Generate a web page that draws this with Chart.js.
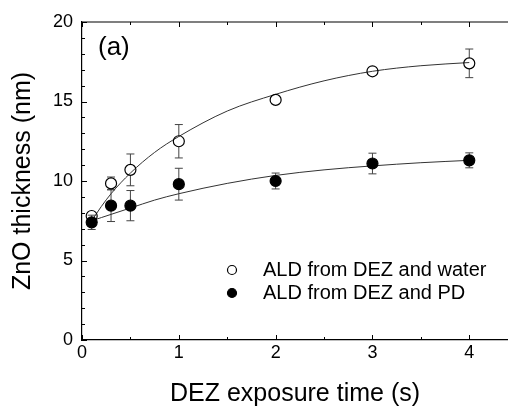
<!DOCTYPE html>
<html lang="en">
<head>
    <meta charset="utf-8" />
    <title>ZnO thickness vs DEZ exposure</title>
    <style>
        html, body { margin: 0; padding: 0; background: #fff; }
        #chartBox { width: 508px; height: 407px; }
    </style>
</head>
<body>
    <div id="chartBox"><canvas id="znoChart"></canvas></div>
    <script src="https://cdn.jsdelivr.net/npm/chart.js"></script>
    <script>
        // values
        var exposureTimes = [0.1, 0.3, 0.5, 1, 2, 3, 4];
        var waterThickness = [7.8, 9.85, 10.7, 12.5, 15.1, 16.9, 17.4];
        var waterError = [0.3, 0.4, 1.0, 1.05, 0.2, 0.2, 0.9];
        var pdThickness = [7.4, 8.45, 8.45, 9.8, 10.0, 11.1, 11.3];
        var pdError = [0.45, 1.0, 0.95, 1.0, 0.5, 0.65, 0.47];

        // fitted curves
        var fitTimes = [0.1, 0.2, 0.3, 0.5, 0.75, 1, 1.5, 2, 2.5, 3, 3.5, 4];
        var waterFit = [7.5, 8.4, 9.2, 10.5, 11.8, 12.8, 14.4, 15.45, 16.3, 16.9, 17.25, 17.45];
        var pdFit = [7.5, 7.7, 7.9, 8.3, 8.8, 9.2, 9.85, 10.35, 10.7, 10.95, 11.15, 11.3];

        var xTicks = [0, 1, 2, 3, 4];
        var yTicks = [0, 5, 10, 15, 20];
        var seriesNames = ['ALD from DEZ and water', 'ALD from DEZ and PD'];

        var FONT = '"Liberation Sans", Arial, sans-serif';
        Chart.defaults.font.family = FONT;
        Chart.defaults.color = '#000';

        function toXY(xs, ys) {
            return xs.map(function (x, i) { return { x: x, y: ys[i] }; });
        }

        // error bars, drawn under the markers
        var errorBars = {
            id: 'errorBars',
            beforeDatasetsDraw: function (chart) {
                var ctx = chart.ctx;
                var ys = chart.scales.y;
                ctx.save();
                ctx.strokeStyle = '#444';
                ctx.lineWidth = 1;
                chart.data.datasets.forEach(function (ds, di) {
                    if (!ds.errors) return;
                    var meta = chart.getDatasetMeta(di);
                    meta.data.forEach(function (pt, i) {
                        var v = ds.data[i].y, e = ds.errors[i];
                        var top = ys.getPixelForValue(v + e);
                        var bot = ys.getPixelForValue(v - e);
                        var r = ds.pointRadius;
                        ctx.beginPath();
                        if (top < pt.y - r) { ctx.moveTo(pt.x, pt.y - r); ctx.lineTo(pt.x, top); ctx.moveTo(pt.x - 4, top); ctx.lineTo(pt.x + 4, top); }
                        if (bot > pt.y + r) { ctx.moveTo(pt.x, pt.y + r); ctx.lineTo(pt.x, bot); ctx.moveTo(pt.x - 4, bot); ctx.lineTo(pt.x + 4, bot); }
                        ctx.stroke();
                    });
                });
                ctx.restore();
            }
        };

        // frame line, inward ticks, legend and panel label
        var decorations = {
            id: 'decorations',
            afterDraw: function (chart) {
                var ctx = chart.ctx;
                var a = chart.chartArea;
                var xs = chart.scales.x, ys = chart.scales.y;
                ctx.save();
                ctx.strokeStyle = '#000';
                ctx.lineWidth = 1.2;
                ctx.beginPath();
                ctx.moveTo(a.left, a.top);
                ctx.lineTo(a.right, a.top);
                ctx.stroke();

                ctx.lineWidth = 1;
                ctx.beginPath();
                for (var xv = 0; xv <= 4.4001; xv += 0.5) {
                    var px = Math.round(xs.getPixelForValue(xv)) + 0.5;
                    var len = xTicks.indexOf(Math.round(xv * 10) / 10) >= 0 ? 5 : 3;
                    ctx.moveTo(px, a.bottom); ctx.lineTo(px, a.bottom - len);
                    ctx.moveTo(px, a.top); ctx.lineTo(px, a.top + len);
                }
                for (var yv = 0; yv <= 20; yv += 1) {
                    var py = Math.round(ys.getPixelForValue(yv)) + 0.5;
                    var l2 = yTicks.indexOf(yv) >= 0 ? 5 : 3;
                    ctx.moveTo(a.left, py); ctx.lineTo(a.left + l2, py);
                }
                ctx.stroke();

                // legend
                var legendRows = [270, 293];
                chart.data.datasets.forEach(function (ds, di) {
                    if (!ds.errors) return;
                    var ly = legendRows[di];
                    ctx.beginPath();
                    ctx.arc(232, ly, 4.5, 0, Math.PI * 2);
                    ctx.fillStyle = ds.backgroundColor;
                    ctx.fill();
                    ctx.lineWidth = 1.2;
                    ctx.strokeStyle = '#000';
                    ctx.stroke();
                    ctx.fillStyle = '#000';
                    ctx.font = '20px ' + FONT;
                    ctx.textBaseline = 'middle';
                    ctx.textAlign = 'left';
                    ctx.fillText(ds.label, 263, ly);
                });

                ctx.font = '26px ' + FONT;
                ctx.fillStyle = '#000';
                ctx.textBaseline = 'middle';
                ctx.fillText('(a)', 98, 48);
                ctx.restore();
            }
        };

        var ctx = document.getElementById('znoChart').getContext('2d');
        var znoChart = new Chart(ctx, {
            type: 'scatter',
            data: {
                datasets: [
                    {
                        label: seriesNames[0],
                        data: toXY(exposureTimes, waterThickness),
                        errors: waterError,
                        pointRadius: 5.5,
                        pointBorderWidth: 1.2,
                        borderColor: '#000',
                        backgroundColor: 'rgba(0,0,0,0)'
                    },
                    {
                        label: seriesNames[1],
                        data: toXY(exposureTimes, pdThickness),
                        errors: pdError,
                        pointRadius: 5.5,
                        pointBorderWidth: 1.2,
                        borderColor: '#000',
                        backgroundColor: '#000'
                    },
                    {
                        label: 'water fit',
                        data: toXY(fitTimes, waterFit),
                        showLine: true,
                        pointRadius: 0,
                        borderWidth: 1,
                        borderColor: '#333',
                        cubicInterpolationMode: 'monotone'
                    },
                    {
                        label: 'PD fit',
                        data: toXY(fitTimes, pdFit),
                        showLine: true,
                        pointRadius: 0,
                        borderWidth: 1,
                        borderColor: '#333',
                        cubicInterpolationMode: 'monotone'
                    }
                ]
            },
            options: {
                responsive: true,
                maintainAspectRatio: false,
                animation: false,
                devicePixelRatio: 1,
                layout: { autoPadding: false, padding: { top: 22, right: 0, left: 0, bottom: 0 } },
                plugins: { legend: { display: false }, tooltip: { enabled: false } },
                scales: {
                    x: {
                        type: 'linear',
                        min: 0,
                        max: 4.4,
                        grid: { display: false, drawTicks: false },
                        border: { color: '#000', width: 1.2 },
                        ticks: { font: { size: 18 }, color: '#000', padding: 2, includeBounds: false },
                        afterBuildTicks: function (s) { s.ticks = xTicks.map(function (v) { return { value: v }; }); },
                        afterFit: function (s) { s.height = 67; },
                        title: {
                            display: true,
                            text: 'DEZ exposure time (s)',
                            font: { size: 25, lineHeight: 1 },
                            color: '#000',
                            padding: { top: 0, bottom: 0 }
                        }
                    },
                    y: {
                        type: 'linear',
                        min: 0,
                        max: 20,
                        grid: { display: false, drawTicks: false },
                        border: { color: '#000', width: 1.2 },
                        ticks: { font: { size: 18 }, color: '#000', padding: 9, includeBounds: false },
                        afterBuildTicks: function (s) { s.ticks = yTicks.map(function (v) { return { value: v }; }); },
                        afterFit: function (s) { s.width = 82; },
                        title: {
                            display: true,
                            text: 'ZnO thickness (nm)',
                            font: { size: 25, lineHeight: 1 },
                            color: '#000',
                            padding: { top: 11, bottom: 0 }
                        }
                    }
                }
            },
            plugins: [errorBars, decorations]
        });
    </script>
</body>
</html>
